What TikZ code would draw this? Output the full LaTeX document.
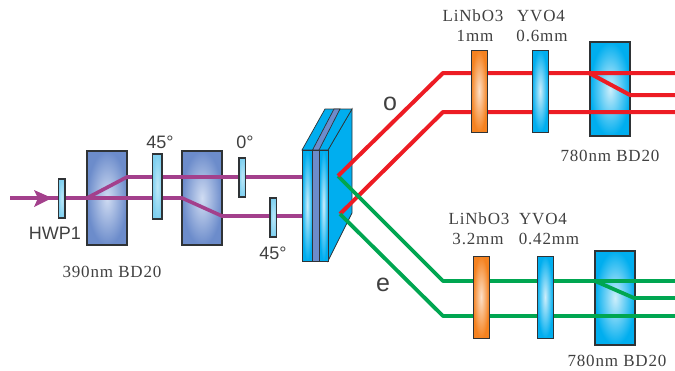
\documentclass[tikz,border=0pt]{standalone}
\usepackage{fontspec}
\setmainfont[LetterSpace=5]{Liberation Serif}
\newfontfamily\labelsans{Liberation Sans}
\usepackage{xcolor}
\usetikzlibrary{arrows.meta}
\definecolor{bdblue}{HTML}{6C8CCB}
\definecolor{bdglow}{HTML}{D0DCF2}
\definecolor{cyanblue}{HTML}{00AEEF}
\definecolor{cyanglow}{HTML}{CDEEFB}
\definecolor{lightplate}{HTML}{7FD0F0}
\definecolor{waveglow}{HTML}{BFE8F8}
\definecolor{orangeplate}{HTML}{F58220}
\definecolor{orangeglow}{HTML}{FCE0C8}
\definecolor{pumpbeam}{HTML}{A3408C}
\definecolor{redbeam}{HTML}{ED1C24}
\definecolor{greenbeam}{HTML}{00A651}
\definecolor{edgegray}{HTML}{2F3336}
\tikzset{
  box/.style={inner sep=0pt, outer sep=0pt, draw=edgegray, anchor=north west},
  bdpump/.style={box, line width=1.5pt, inner color=bdglow, outer color=bdblue, minimum width=40pt, minimum height=94pt},
  bdcyan/.style={box, line width=1.5pt, inner color=cyanglow, outer color=cyanblue, minimum width=40pt, minimum height=94pt},
  wave/.style={box, line width=1.1pt, inner color=waveglow, outer color=lightplate},
  lin/.style={box, line width=0.7pt, inner color=orangeglow, outer color=orangeplate, minimum width=16pt, minimum height=82pt},
  yvo/.style={box, line width=0.7pt, inner color=cyanglow, outer color=cyanblue, minimum width=16pt, minimum height=82pt},
  layer/.style={box, line width=0.7pt, minimum height=111pt},
  pump/.style={line width=3.6pt, pumpbeam},
  obeam/.style={line width=4pt, redbeam, line join=round},
  ebeam/.style={line width=3.8pt, greenbeam, line join=round},
  serifl/.style={font=\fontsize{17}{19}\selectfont, text=black!75, inner sep=0pt},
  sansl/.style={font=\labelsans\fontsize{18}{20}\selectfont, text=black!75, inner sep=0pt},
}
\begin{document}
\begin{tikzpicture}[x=1pt,y=-1pt]
  \useasboundingbox (0,0) rectangle (675,370);

  % displacers of the pump
  \node[bdpump] (bdA) at (87,151) {};
  \node[bdpump] (bdB) at (182,151) {};

  % pump beam
  \coordinate (in) at (10,198);
  \coordinate (tip) at (52,198);
  \coordinate (splitA) at (87,198);
  \coordinate (upA) at (127,177);
  \coordinate (upEnd) at (302,177);
  \coordinate (splitB) at (182,198);
  \coordinate (lowB) at (222,216);
  \coordinate (lowEnd) at (302,216);
  \draw[pump] (in) -- (splitA) -- (upA) -- (upEnd);
  \draw[pump] (splitA) -- (splitB) -- (lowB) -- (lowEnd);
  \draw[pump, line width=0pt, draw=none, fill=pumpbeam] (34,190) -- (tip) -- (34,207) -- (38,198) -- cycle;

  % wave plates of the pump
  \node[wave, minimum width=6.5pt, minimum height=39pt] (hwpA) at (58.5,179) {};
  \node[wave, minimum width=9.5pt, minimum height=65pt] (hwpB) at (152.5,154) {};
  \node[wave, minimum width=6.5pt, minimum height=39pt] (hwpC) at (239,158) {};
  \node[wave, minimum width=6.5pt, minimum height=39pt] (hwpD) at (270,198) {};

  % crystal stack
  \draw[line width=0.7pt, draw=edgegray, fill=cyanblue] (328,150) -- (352,109) -- (352,213) -- (328,261) -- cycle;
  \draw[line width=0.7pt, draw=edgegray, fill=cyanblue] (302,150) -- (325,109) -- (352,109) -- (328,150) -- cycle;
  \draw[line width=0.7pt, draw=edgegray, fill=bdblue] (312.5,150) -- (334,109) -- (340,109) -- (319,150) -- cycle;
  \node[layer, minimum width=10.5pt, inner color=cyanglow, outer color=cyanblue] (frontA) at (302,150) {};
  \node[layer, minimum width=6.5pt, fill=bdblue] (frontB) at (312.5,150) {};
  \node[layer, minimum width=9pt, inner color=cyanglow, outer color=cyanblue] (frontC) at (319,150) {};

  % displacers of the pairs
  \node[bdcyan] (bdC) at (590,42) {};
  \node[bdcyan] (bdD) at (595,251) {};

  % o and e beams
  \coordinate (srcA) at (338,176);
  \coordinate (srcB) at (340,214);
  \coordinate (oKneeA) at (443,73);
  \coordinate (oKneeB) at (443,112);
  \coordinate (oSplit) at (589,73);
  \coordinate (oDown) at (630,95);
  \coordinate (oEndA) at (675,73);
  \coordinate (oEndB) at (675,95);
  \coordinate (oEndC) at (675,112);
  \coordinate (eKneeA) at (443,281);
  \coordinate (eKneeB) at (443,316);
  \coordinate (eSplit) at (595,281);
  \coordinate (eDown) at (634,298);
  \coordinate (eEndA) at (675,281);
  \coordinate (eEndB) at (675,298);
  \coordinate (eEndC) at (675,316);
  \draw[obeam] (srcB) -- (oKneeB) -- (oEndC);
  \draw[ebeam] (srcB) -- (eKneeB) -- (eEndC);
  \draw[ebeam] (srcA) -- (eKneeA) -- (eEndA);
  \draw[ebeam] (eSplit) -- (eDown) -- (eEndB);
  \draw[obeam] (srcA) -- (oKneeA) -- (oEndA);
  \draw[obeam] (oSplit) -- (oDown) -- (oEndB);

  % thin plates of the pairs
  \node[lin] (linO) at (471,50) {};
  \node[yvo] (yvoO) at (532,50) {};
  \node[lin] (linE) at (473,256) {};
  \node[yvo] (yvoE) at (537,256) {};

  % labels
  \node[sansl] (hwpLabel) at (55,233) {HWP1};
  \node[sansl] (degB) at (160,142) {45°};
  \node[sansl] (degC) at (245,142) {0°};
  \node[sansl] (degD) at (273,253) {45°};
  \node[serifl] (bdPumpLabel) at (112,272) {390nm BD20};
  \node[sansl, font=\labelsans\fontsize{25}{27}\selectfont] (oLabel) at (390,104) {o};
  \node[sansl, font=\labelsans\fontsize{25}{27}\selectfont] (eLabel) at (383,285) {e};
  \node[serifl] (linOa) at (473,16) {LiNbO3};
  \node[serifl] (linOb) at (475,36) {1mm};
  \node[serifl] (yvoOa) at (541,16) {YVO4};
  \node[serifl] (yvoOb) at (542,36) {0.6mm};
  \node[serifl] (bdOLabel) at (610,156) {780nm BD20};
  \node[serifl] (linEa) at (479,219) {LiNbO3};
  \node[serifl] (linEb) at (478,239) {3.2mm};
  \node[serifl] (yvoEa) at (543,219) {YVO4};
  \node[serifl] (yvoEb) at (549,239) {0.42mm};
  \node[serifl] (bdELabel) at (617,361) {780nm BD20};
\end{tikzpicture}
\end{document}
